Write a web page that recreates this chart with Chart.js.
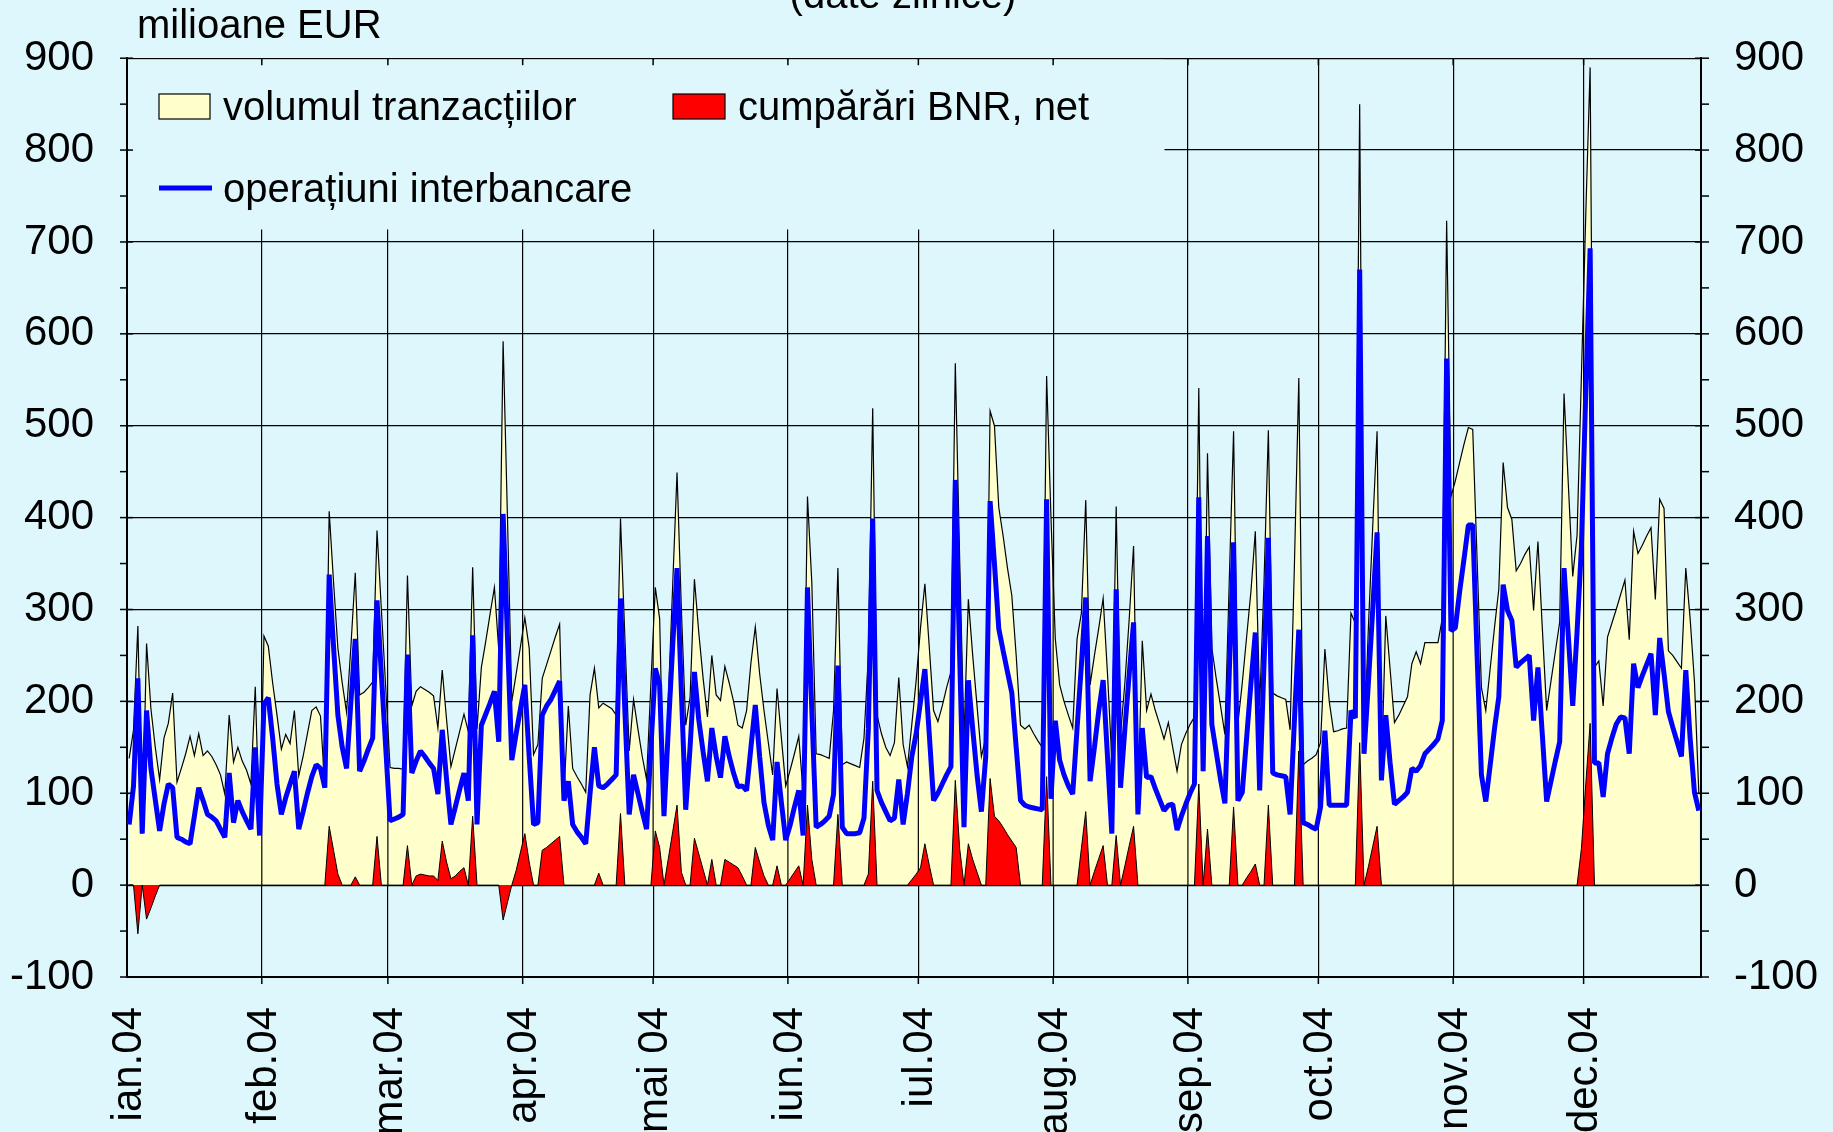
<!DOCTYPE html>
<html><head><meta charset="utf-8">
<script src="https://cdn.jsdelivr.net/npm/chart.js@4.4.1/dist/chart.umd.min.js"></script>
<style>html,body{margin:0;padding:0;background:#DEF7FD;}canvas{display:block;}</style>
</head><body>
<canvas id="c" width="1833" height="1132"></canvas>
<script>
// ---- categories / tick labels ----
const monthLabels = ['ian.04','feb.04','mar.04','apr.04','mai 04','iun.04','iul.04','aug.04','sep.04','oct.04','nov.04','dec.04'];
const monthDays = [31,29,31,30,31,30,31,31,30,31,30,27];
const yTickValues = [-100,0,100,200,300,400,500,600,700,800,900];

// ---- series (milioane EUR), one value per calendar day, rows = months ----
const volum = [
138,169,282,56,263,192,150,115,160,176,209,112,127,143,162,141,165,141,146,140,131,120,99,185,134,150,135,125,110,216,56,
271,260,220,185,148,164,154,190,119,140,165,190,194,184,106,407,330,258,220,188,260,340,207,210,215,221,386,300,215,
128,127,127,126,337,195,211,216,213,210,206,171,234,180,129,148,167,186,167,346,170,237,265,295,324,256,592,400,200,230,260,
291,258,142,153,225,240,255,270,284,100,195,127,118,110,101,207,236,193,198,195,192,185,399,270,146,202,170,140,115,220,
324,290,80,203,326,449,300,174,204,333,275,225,183,250,207,201,238,220,200,174,171,190,242,281,230,190,155,120,214,160,108,
125,143,162,100,423,329,143,142,140,138,190,345,131,134,132,130,128,160,250,519,185,165,150,141,155,226,153,129,175,223,
280,328,260,190,178,195,215,232,568,355,160,311,250,195,140,160,516,500,411,380,345,315,250,174,170,174,165,157,150,554,400,
268,218,200,185,171,268,296,419,218,250,280,312,230,136,412,164,220,290,369,90,266,190,208,190,175,159,177,150,124,153,165,
175,183,541,124,470,258,225,195,164,330,494,176,220,270,320,385,195,330,495,209,206,204,202,169,350,552,131,135,138,142,
155,257,200,167,168,170,171,296,285,850,150,280,390,494,118,293,235,177,185,195,205,241,254,241,264,264,264,264,290,723,423,
440,460,480,498,496,355,215,190,235,280,322,460,411,398,342,350,360,368,299,374,280,190,222,254,286,535,435,336,381,555,
730,890,237,244,195,270,285,300,316,332,267,385,361,370,380,389,311,420,410,255,250,243,236,345,290,221,100
];
const bnrNet = [
0,0,-53,0,-37,-25,-12,0,0,0,0,0,0,0,0,0,0,0,0,0,0,0,0,0,0,0,0,0,0,0,0,
0,0,0,0,0,0,0,0,0,0,0,0,0,0,0,64,38,12,0,0,0,9,0,0,0,0,53,0,0,
0,0,0,0,43,0,10,12,11,10,10,5,48,25,7,10,15,19,0,75,0,0,0,0,0,0,-38,-19,0,16,36,
56,25,0,0,38,41,45,49,53,0,0,0,0,0,0,0,0,13,0,0,0,0,78,0,0,0,0,0,0,0,
59,41,0,29,58,87,14,0,0,51,34,17,0,28,0,0,28,25,22,19,10,0,0,41,25,10,0,0,21,0,0,
7,14,21,0,87,28,0,0,0,0,0,77,0,0,0,0,0,0,12,113,0,0,0,0,0,0,0,0,6,12,
19,45,22,0,0,0,0,0,114,40,0,45,28,14,0,0,116,75,70,63,55,48,41,0,0,0,0,0,0,118,0,
0,0,0,0,0,0,40,80,0,15,29,43,0,0,54,0,21,43,64,0,0,0,0,0,0,0,0,0,0,0,0,
0,0,110,0,61,0,0,0,0,0,85,0,0,8,15,23,0,0,87,0,0,0,0,0,0,146,0,0,0,0,
0,0,0,0,0,0,0,0,0,155,0,20,42,64,0,0,0,0,0,0,0,0,0,0,0,0,0,0,0,0,0,
0,0,0,0,0,0,0,0,0,0,0,0,0,0,0,0,0,0,0,0,0,0,0,0,0,0,0,0,0,40,
110,176,0,0,0,0,0,0,0,0,0,0,0,0,0,0,0,0,0,0,0,0,0,0,0,0,0
];
const interbancar = [
66,108,225,56,190,127,93,59,88,110,106,52,50,47,45,75,106,92,77,74,70,61,52,122,68,92,80,70,61,150,54,
197,204,160,110,77,95,110,124,61,80,100,118,131,127,106,338,260,185,150,127,200,268,124,135,148,160,310,230,150,
70,72,74,77,251,122,135,146,140,133,127,99,169,115,66,85,104,122,92,272,66,174,186,198,211,156,404,270,136,165,192,
218,140,66,68,185,195,202,212,222,92,113,66,58,52,45,100,150,108,106,110,115,120,312,190,77,120,100,80,61,150,
236,218,75,170,260,345,210,82,150,232,180,145,113,171,140,117,162,140,122,107,108,103,150,196,140,90,65,49,134,90,49,
65,85,103,54,324,190,63,66,70,75,99,239,63,56,56,56,57,73,170,399,103,90,80,70,73,115,66,100,140,165,
200,235,165,92,100,110,120,129,441,250,63,223,170,120,80,140,418,350,279,255,232,209,150,92,87,85,84,83,82,420,94,
179,136,120,108,99,170,240,313,113,150,190,223,140,56,322,106,170,230,286,77,171,117,118,105,93,81,87,88,60,75,88,
100,110,422,124,380,175,145,115,89,230,373,92,101,160,220,275,103,240,378,122,120,119,118,77,180,278,68,66,63,61,
85,168,87,87,87,87,87,190,182,670,143,220,300,384,114,185,133,88,92,96,101,127,124,130,143,148,153,159,179,573,277,
280,320,355,392,392,250,120,91,130,170,205,327,299,288,237,242,246,250,179,237,164,91,113,135,156,345,270,195,276,368,
537,693,133,133,96,143,160,175,183,182,143,241,215,228,240,252,185,269,230,189,172,156,140,234,160,101,81
];

// ---- derived categories ----
const dates = [];
monthDays.forEach((n, m) => { for (let d = 1; d <= n; d++) dates.push(d + '.' + (m + 1) + '.2004'); });
const tickText = dates.map(s => s.startsWith('1.') ? monthLabels[parseInt(s.split('.')[1], 10) - 1] : '');
const monthStart = new Set(tickText.map((t, i) => t ? i : -1).filter(i => i >= 0));

const BG = '#DEF7FD';
const FONT = '"Liberation Sans", Arial, sans-serif';
const AXIS_FS = 42;
const TEXT_FS = 40;

function boundaryX(xs, i) {
  const a = xs.getPixelForValue(i), b = i > 0 ? xs.getPixelForValue(i - 1) : a - (xs.getPixelForValue(1) - a);
  return (a + b) / 2;
}

const decorPlugin = {
  id: 'decor',
  beforeDraw(chart) {
    const c = chart.ctx; c.save(); c.fillStyle = BG; c.fillRect(0, 0, chart.width, chart.height); c.restore();
  },
  beforeDatasetsDraw(chart) {
    const c = chart.ctx, a = chart.chartArea;
    c.save(); c.fillStyle = BG; c.fillRect(a.left + 1.5, a.top + 1.5, 1163 - a.left, 228 - a.top); c.restore();
  },
  afterDatasetDraw(chart, args) {
    if (args.index !== 2) return;
    // month separators stay visible through the yellow area
    const c = chart.ctx, a = chart.chartArea, xs = chart.scales.x, ys = chart.scales.y;
    const pts = args.meta.data, y0 = ys.getPixelForValue(0);
    c.save();
    c.beginPath(); c.moveTo(pts[0].x, y0);
    pts.forEach(p => c.lineTo(p.x, p.y));
    c.lineTo(pts[pts.length - 1].x, y0); c.closePath(); c.clip();
    c.strokeStyle = '#000'; c.lineWidth = 1.2;
    monthStart.forEach(i => { const x = boundaryX(xs, i); c.beginPath(); c.moveTo(x, a.top); c.lineTo(x, a.bottom); c.stroke(); });
    c.restore();
  },
  afterDraw(chart) {
    const c = chart.ctx, a = chart.chartArea, xs = chart.scales.x, ys = chart.scales.y;
    c.save();
    c.strokeStyle = '#000'; c.lineWidth = 1.5;
    for (let v = -100; v <= 900; v += 50) {
      const y = ys.getPixelForValue(v), major = v % 100 === 0;
      c.beginPath(); c.moveTo(a.left - 7, y); c.lineTo(a.left + (major ? 6 : 0), y); c.stroke();
      c.beginPath(); c.moveTo(a.right - (major ? 6 : 0), y); c.lineTo(a.right + 8, y); c.stroke();
    }
    monthStart.forEach(i => {
      if (i === 0) return;
      const x = boundaryX(xs, i);
      c.beginPath(); c.moveTo(x, a.top); c.lineTo(x, a.top + 7); c.stroke();
      c.beginPath(); c.moveTo(x, a.bottom); c.lineTo(x, a.bottom + 7); c.stroke();
    });
    c.fillStyle = '#000'; c.font = TEXT_FS + 'px ' + FONT; c.textBaseline = 'alphabetic';
    c.textAlign = 'center'; c.fillText('(date zilnice)', 903, 8);
    c.textAlign = 'left'; c.fillText('milioane EUR', 137, 38);
    c.lineWidth = 1.2;
    c.fillStyle = '#FFFFCC'; c.fillRect(159, 94, 51, 25); c.strokeRect(159, 94, 51, 25);
    c.fillStyle = '#FF0000'; c.fillRect(673, 94, 52, 25); c.strokeRect(673, 94, 52, 25);
    c.strokeStyle = '#0000FF'; c.lineWidth = 5; c.beginPath(); c.moveTo(159, 188); c.lineTo(212, 188); c.stroke();
    c.fillStyle = '#000';
    c.fillText('volumul tranzacțiilor', 223, 120);
    c.fillText('cumpărări BNR, net', 738, 120);
    c.fillText('operațiuni interbancare', 223, 202);
    c.restore();
  }
};

const tickFont = { family: FONT, size: AXIS_FS };

new Chart(document.getElementById('c'), {
  type: 'line',
  data: {
    labels: dates,
    datasets: [
      { label: 'operațiuni interbancare', data: interbancar, borderColor: '#0000FF', borderWidth: 5, fill: false, order: 0, borderJoinStyle: 'bevel' },
      { label: 'cumpărări BNR, net', data: bnrNet, borderColor: '#000', borderWidth: 1, backgroundColor: '#FF0000', fill: 'origin', order: 1 },
      { label: 'volumul tranzacțiilor', data: volum, borderColor: '#000', borderWidth: 1.2, backgroundColor: '#FFFFCC', fill: 'origin', order: 2 }
    ]
  },
  options: {
    responsive: false, animation: false, devicePixelRatio: 1,
    layout: { padding: { top: 55, left: 0, right: 0, bottom: 0 } },
    elements: { point: { radius: 0 }, line: { tension: 0 } },
    plugins: { legend: { display: false }, tooltip: { enabled: false }, title: { display: false } },
    scales: {
      x: {
        type: 'category', offset: true,
        grid: { offset: true, drawTicks: false, lineWidth: 1.2, color: ctx => (ctx.index !== undefined && monthStart.has(ctx.index)) ? '#000' : 'rgba(0,0,0,0)' },
        border: { color: '#000', width: 2 },
        ticks: { autoSkip: false, maxRotation: 90, minRotation: 90, padding: 30, color: '#000', font: tickFont, callback: (v, i) => tickText[i] },
        afterFit: s => { s.height = 155; }
      },
      y: {
        position: 'left', min: -100, max: 900,
        ticks: { stepSize: 100, padding: 33, color: '#000', font: tickFont },
        grid: { color: '#000', lineWidth: 1.2, drawTicks: false },
        border: { color: '#000', width: 2 },
        afterFit: s => { s.width = 127; }
      },
      y2: {
        position: 'right', min: -100, max: 900,
        ticks: { stepSize: 100, padding: 33, color: '#000', font: tickFont },
        grid: { display: false, drawTicks: false },
        border: { color: '#000', width: 2 },
        afterFit: s => { s.width = 132; }
      }
    }
  },
  plugins: [decorPlugin]
});
</script>
</body></html>
